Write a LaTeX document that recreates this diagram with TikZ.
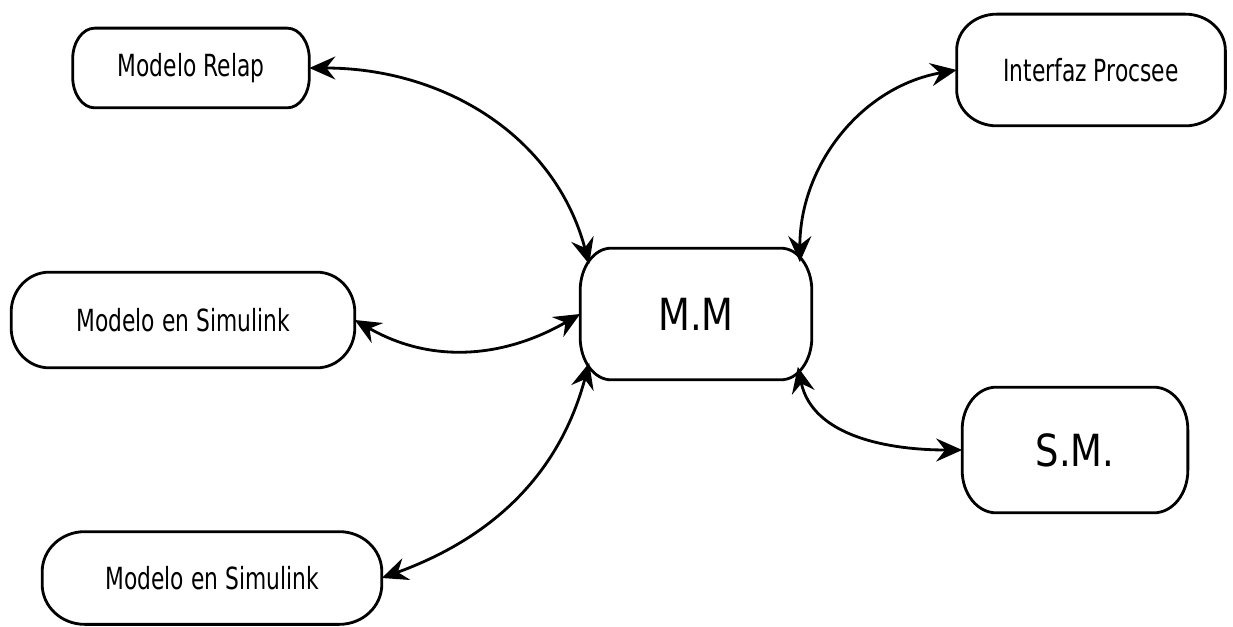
\documentclass[tikz,border=0pt]{standalone}
\usepackage{fontspec}
\setmainfont{DejaVu Sans}
\usepackage{graphicx}
\usetikzlibrary{arrows.meta}

\newcommand{\alto}[2]{\scalebox{1}[#1]{#2}}
% contorno con esquinas elipticas: nodo, radio x, radio y
\newcommand{\borde}[3]{%
  \draw[line width=1.6pt] ([xshift=#2]#1.north west) -- ([xshift=-#2]#1.north east)
    arc[start angle=90, end angle=0, x radius=#2, y radius=#3]
    -- ([yshift=#3]#1.south east)
    arc[start angle=0, end angle=-90, x radius=#2, y radius=#3]
    -- ([xshift=#2]#1.south west)
    arc[start angle=270, end angle=180, x radius=#2, y radius=#3]
    -- ([yshift=-#3]#1.north west)
    arc[start angle=180, end angle=90, x radius=#2, y radius=#3] -- cycle;}

\begin{document}
\begin{tikzpicture}[x=0.02cm, y=0.02cm,
    caja/.style={rectangle, inner sep=0pt},
    chico/.style={font=\fontsize{12.4}{14}\selectfont},
    grande/.style={font=\fontsize{21}{25}\selectfont},
    flecha/.style={<->, >={Stealth[length=5.2mm, width=4.6mm, inset=1.8mm]}, line width=1.6pt}]
    \useasboundingbox (0,0) rectangle (1233,626);

    % bloques
    \node[caja, chico, minimum width=4.72cm, minimum height=1.58cm] (relap) at (191,558) {\alto{1.4}{Modelo Relap}};
    \node[caja, chico, minimum width=6.86cm, minimum height=1.9cm] (simA) at (183,306) {\alto{1.4}{Modelo en Simulink}};
    \node[caja, chico, minimum width=6.78cm, minimum height=1.84cm] (simB) at (212,48) {\alto{1.4}{Modelo en Simulink}};
    \node[caja, grande, minimum width=4.62cm, minimum height=2.62cm] (mm) at (696,312) {\alto{1.2}{M.M}};
    \node[caja, chico, minimum width=5.36cm, minimum height=2.22cm] (procsee) at (1091,556) {\alto{1.4}{Interfaz Procsee}};
    \node[caja, grande, minimum width=4.5cm, minimum height=2.5cm] (sm) at (1075,176) {\alto{1.2}{S.M.}};

    \borde{relap}{0.44cm}{0.62cm}
    \borde{simA}{0.76cm}{0.8cm}
    \borde{simB}{0.85cm}{0.8cm}
    \borde{mm}{0.62cm}{0.85cm}
    \borde{procsee}{0.8cm}{0.72cm}
    \borde{sm}{0.68cm}{0.85cm}

    % conexiones
    \draw[flecha] (relap.east) to[out=0, in=105] ([shift={(9,-16)}]mm.north west);
    \draw[flecha] (simA.east) to[out=-30, in=-150] (mm.west);
    \draw[flecha] (simB.east) to[out=20, in=-105] ([shift={(9,17)}]mm.south west);
    \draw[flecha] ([shift={(-12,-14)}]mm.north east) to[out=90, in=190] (procsee.west);
    \draw[flecha] ([shift={(-14,13)}]mm.south east) to[out=-78, in=180] (sm.west);
\end{tikzpicture}
\end{document}
